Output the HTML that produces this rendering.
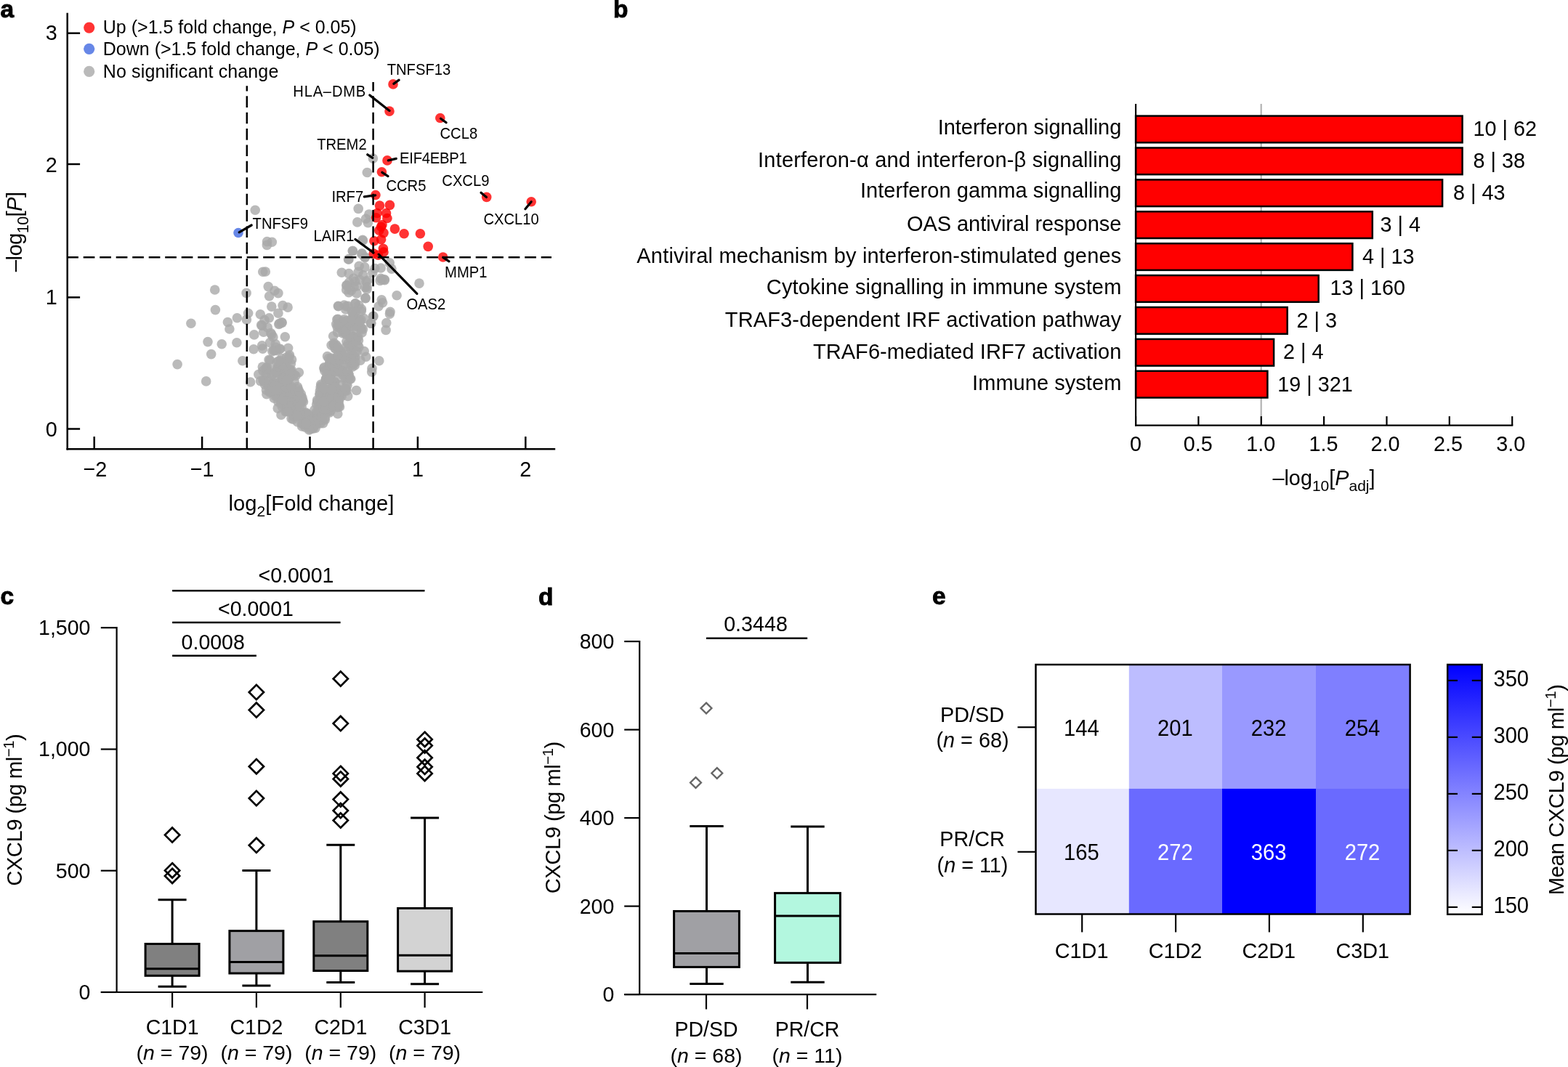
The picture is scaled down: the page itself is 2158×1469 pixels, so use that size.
<!DOCTYPE html>
<html lang="en"><head><meta charset="utf-8"><title>Figure</title>
<style>
html,body{margin:0;padding:0;background:#fff;}
body{width:2158px;height:1469px;overflow:hidden;}
svg{display:block;font-family:"Liberation Sans",sans-serif;}

</style></head>
<body>
<svg width="2158" height="1469" viewBox="0 0 2158 1469">
<rect width="2158" height="1469" fill="#fff"/>
<g id="pa">
<g fill="#a9a9a9" fill-opacity="0.8">
<circle cx="435.7" cy="556.8" r="6.8"/><circle cx="429.1" cy="573.8" r="6.8"/><circle cx="453.7" cy="567.9" r="6.8"/><circle cx="465.6" cy="543" r="6.8"/><circle cx="459.4" cy="541.9" r="6.8"/><circle cx="441.8" cy="546.4" r="6.8"/><circle cx="426.9" cy="590.8" r="6.8"/><circle cx="440.3" cy="543.1" r="6.8"/><circle cx="448.2" cy="563.6" r="6.8"/><circle cx="447.2" cy="577.9" r="6.8"/><circle cx="464.1" cy="547.9" r="6.8"/><circle cx="461.8" cy="541.2" r="6.8"/><circle cx="443.8" cy="546.7" r="6.8"/><circle cx="460.7" cy="544.2" r="6.8"/><circle cx="457.9" cy="554.5" r="6.8"/><circle cx="442.5" cy="549.2" r="6.8"/><circle cx="463.7" cy="552.1" r="6.8"/><circle cx="445.1" cy="570.6" r="6.8"/><circle cx="458.2" cy="540.2" r="6.8"/><circle cx="456.5" cy="560.4" r="6.8"/><circle cx="436.6" cy="550.9" r="6.8"/><circle cx="453.5" cy="545.3" r="6.8"/><circle cx="435.5" cy="571.9" r="6.8"/><circle cx="452.2" cy="553.1" r="6.8"/><circle cx="445.2" cy="557.8" r="6.8"/><circle cx="436.6" cy="583.1" r="6.8"/><circle cx="435.3" cy="567.5" r="6.8"/><circle cx="453.8" cy="553.6" r="6.8"/><circle cx="441.7" cy="557.1" r="6.8"/><circle cx="466.5" cy="551.8" r="6.8"/><circle cx="446.5" cy="541.5" r="6.8"/><circle cx="442.1" cy="551.5" r="6.8"/><circle cx="440.2" cy="550.2" r="6.8"/><circle cx="437.3" cy="577.7" r="6.8"/><circle cx="440.7" cy="583" r="6.8"/><circle cx="447.6" cy="553.1" r="6.8"/><circle cx="458.2" cy="553.5" r="6.8"/><circle cx="461.5" cy="558.4" r="6.8"/><circle cx="438.4" cy="562.9" r="6.8"/><circle cx="462.8" cy="549" r="6.8"/><circle cx="466.5" cy="557" r="6.8"/><circle cx="470.1" cy="545.5" r="6.8"/><circle cx="446.3" cy="552.9" r="6.8"/><circle cx="434.5" cy="583.7" r="6.8"/><circle cx="460.1" cy="546.3" r="6.8"/><circle cx="443.2" cy="543.8" r="6.8"/><circle cx="435" cy="574.3" r="6.8"/><circle cx="463.9" cy="560.7" r="6.8"/><circle cx="459.2" cy="548.4" r="6.8"/><circle cx="451.5" cy="566.8" r="6.8"/><circle cx="449.8" cy="550.2" r="6.8"/><circle cx="450.8" cy="540.9" r="6.8"/><circle cx="445.3" cy="545.4" r="6.8"/><circle cx="444.7" cy="582.6" r="6.8"/><circle cx="451.5" cy="563.6" r="6.8"/><circle cx="443" cy="567.4" r="6.8"/><circle cx="439.9" cy="542.6" r="6.8"/><circle cx="448.6" cy="556.2" r="6.8"/><circle cx="437.9" cy="566" r="6.8"/><circle cx="462.9" cy="549.9" r="6.8"/><circle cx="431.9" cy="588.6" r="6.8"/><circle cx="465.6" cy="560.4" r="6.8"/><circle cx="452.2" cy="561" r="6.8"/><circle cx="436.7" cy="553.3" r="6.8"/><circle cx="443.3" cy="554.7" r="6.8"/><circle cx="461.6" cy="555.2" r="6.8"/><circle cx="460.4" cy="548.2" r="6.8"/><circle cx="453" cy="556.1" r="6.8"/><circle cx="455.1" cy="540.1" r="6.8"/><circle cx="465.4" cy="550.5" r="6.8"/><circle cx="445.2" cy="540.3" r="6.8"/><circle cx="456.6" cy="544.7" r="6.8"/><circle cx="442.6" cy="555.8" r="6.8"/><circle cx="450.4" cy="560.3" r="6.8"/><circle cx="467" cy="547.2" r="6.8"/><circle cx="453.3" cy="546.9" r="6.8"/><circle cx="428.5" cy="574.3" r="6.8"/><circle cx="444.2" cy="578.3" r="6.8"/><circle cx="445.3" cy="543.9" r="6.8"/><circle cx="440.2" cy="577.9" r="6.8"/><circle cx="455.1" cy="565.7" r="6.8"/><circle cx="429.5" cy="573.4" r="6.8"/><circle cx="444.3" cy="547.7" r="6.8"/><circle cx="445.6" cy="543.2" r="6.8"/><circle cx="447.4" cy="575.1" r="6.8"/><circle cx="433" cy="564.2" r="6.8"/><circle cx="461.6" cy="540.9" r="6.8"/><circle cx="445.6" cy="563.4" r="6.8"/><circle cx="467" cy="547.4" r="6.8"/><circle cx="434.1" cy="589.5" r="6.8"/><circle cx="464.3" cy="540.2" r="6.8"/><circle cx="448.4" cy="563.4" r="6.8"/><circle cx="451.9" cy="547.3" r="6.8"/><circle cx="433.1" cy="583.6" r="6.8"/><circle cx="456" cy="559.4" r="6.8"/><circle cx="459" cy="558.8" r="6.8"/><circle cx="445.3" cy="553" r="6.8"/><circle cx="469.1" cy="537" r="6.8"/><circle cx="460.9" cy="526.6" r="6.8"/><circle cx="477.1" cy="527.6" r="6.8"/><circle cx="451.9" cy="513.6" r="6.8"/><circle cx="485.1" cy="504.9" r="6.8"/><circle cx="444.9" cy="538.8" r="6.8"/><circle cx="448.3" cy="522.8" r="6.8"/><circle cx="456.1" cy="517.9" r="6.8"/><circle cx="457.7" cy="527.5" r="6.8"/><circle cx="467" cy="510.7" r="6.8"/><circle cx="451.4" cy="508.8" r="6.8"/><circle cx="475.9" cy="515.2" r="6.8"/><circle cx="441.1" cy="533.1" r="6.8"/><circle cx="460.5" cy="510" r="6.8"/><circle cx="482.6" cy="491.6" r="6.8"/><circle cx="462.8" cy="534.8" r="6.8"/><circle cx="443.9" cy="538.6" r="6.8"/><circle cx="480.3" cy="516.1" r="6.8"/><circle cx="469.3" cy="512.9" r="6.8"/><circle cx="488.7" cy="492" r="6.8"/><circle cx="448.5" cy="522.3" r="6.8"/><circle cx="481.7" cy="521.8" r="6.8"/><circle cx="472" cy="516.2" r="6.8"/><circle cx="461.7" cy="505.1" r="6.8"/><circle cx="477.1" cy="537.9" r="6.8"/><circle cx="462.9" cy="534.2" r="6.8"/><circle cx="479.7" cy="514.9" r="6.8"/><circle cx="458.3" cy="506.9" r="6.8"/><circle cx="449.2" cy="538.5" r="6.8"/><circle cx="442.4" cy="531" r="6.8"/><circle cx="486.9" cy="501.1" r="6.8"/><circle cx="458" cy="501.2" r="6.8"/><circle cx="456.1" cy="497.3" r="6.8"/><circle cx="456" cy="493" r="6.8"/><circle cx="450.7" cy="536.6" r="6.8"/><circle cx="454.8" cy="523.2" r="6.8"/><circle cx="450.9" cy="508.7" r="6.8"/><circle cx="452.5" cy="504" r="6.8"/><circle cx="440.4" cy="538.2" r="6.8"/><circle cx="459.3" cy="531.1" r="6.8"/><circle cx="462.8" cy="492.5" r="6.8"/><circle cx="453.6" cy="499.7" r="6.8"/><circle cx="444.6" cy="536" r="6.8"/><circle cx="445.9" cy="507" r="6.8"/><circle cx="474.8" cy="537.9" r="6.8"/><circle cx="483.2" cy="503.1" r="6.8"/><circle cx="446.2" cy="505.8" r="6.8"/><circle cx="486.5" cy="490.2" r="6.8"/><circle cx="476.3" cy="535.8" r="6.8"/><circle cx="462.9" cy="501.7" r="6.8"/><circle cx="464.5" cy="511.5" r="6.8"/><circle cx="450.5" cy="520.4" r="6.8"/><circle cx="453.4" cy="506" r="6.8"/><circle cx="486.2" cy="499.9" r="6.8"/><circle cx="469.4" cy="491.7" r="6.8"/><circle cx="464.9" cy="494.8" r="6.8"/><circle cx="460.5" cy="525.5" r="6.8"/><circle cx="458" cy="501.7" r="6.8"/><circle cx="479.6" cy="521" r="6.8"/><circle cx="447.7" cy="532" r="6.8"/><circle cx="454.3" cy="518.3" r="6.8"/><circle cx="450.4" cy="518.9" r="6.8"/><circle cx="477.9" cy="530.4" r="6.8"/><circle cx="472" cy="538.6" r="6.8"/><circle cx="454.3" cy="536.5" r="6.8"/><circle cx="460.7" cy="533.3" r="6.8"/><circle cx="488.3" cy="503" r="6.8"/><circle cx="475.1" cy="519.8" r="6.8"/><circle cx="454" cy="500.9" r="6.8"/><circle cx="473.4" cy="502.7" r="6.8"/><circle cx="450.5" cy="490.6" r="6.8"/><circle cx="469" cy="529.8" r="6.8"/><circle cx="469.2" cy="509.8" r="6.8"/><circle cx="481.4" cy="498.2" r="6.8"/><circle cx="446.8" cy="510.5" r="6.8"/><circle cx="470.6" cy="505.6" r="6.8"/><circle cx="458" cy="507.9" r="6.8"/><circle cx="469.3" cy="490.7" r="6.8"/><circle cx="475.3" cy="494.5" r="6.8"/><circle cx="465.4" cy="508.5" r="6.8"/><circle cx="464.2" cy="495.4" r="6.8"/><circle cx="455.6" cy="536.3" r="6.8"/><circle cx="475.1" cy="535.2" r="6.8"/><circle cx="441.7" cy="529.3" r="6.8"/><circle cx="456.6" cy="500.9" r="6.8"/><circle cx="455.2" cy="515.9" r="6.8"/><circle cx="470.2" cy="492.1" r="6.8"/><circle cx="469.2" cy="520" r="6.8"/><circle cx="448.7" cy="521.4" r="6.8"/><circle cx="471.9" cy="511" r="6.8"/><circle cx="478.3" cy="511.3" r="6.8"/><circle cx="459.8" cy="512.3" r="6.8"/><circle cx="475" cy="491.2" r="6.8"/><circle cx="459.2" cy="496.4" r="6.8"/><circle cx="460.1" cy="494.6" r="6.8"/><circle cx="454.7" cy="515.2" r="6.8"/><circle cx="452.5" cy="493.3" r="6.8"/><circle cx="446.1" cy="534.8" r="6.8"/><circle cx="449.8" cy="515.3" r="6.8"/><circle cx="488.9" cy="498.4" r="6.8"/><circle cx="467.6" cy="495.8" r="6.8"/><circle cx="453.2" cy="521.8" r="6.8"/><circle cx="469.6" cy="484.9" r="6.8"/><circle cx="456.1" cy="475.2" r="6.8"/><circle cx="471.5" cy="489.6" r="6.8"/><circle cx="487.2" cy="464.4" r="6.8"/><circle cx="478.8" cy="473.4" r="6.8"/><circle cx="459.3" cy="474.6" r="6.8"/><circle cx="472" cy="459" r="6.8"/><circle cx="462.9" cy="475" r="6.8"/><circle cx="476.6" cy="453.8" r="6.8"/><circle cx="488.7" cy="484.9" r="6.8"/><circle cx="477.2" cy="450.5" r="6.8"/><circle cx="460.3" cy="475.8" r="6.8"/><circle cx="484.6" cy="487.5" r="6.8"/><circle cx="467.6" cy="451.8" r="6.8"/><circle cx="488.4" cy="452.3" r="6.8"/><circle cx="469.3" cy="450.5" r="6.8"/><circle cx="474.1" cy="458" r="6.8"/><circle cx="476.9" cy="470.3" r="6.8"/><circle cx="497.7" cy="451.9" r="6.8"/><circle cx="483.1" cy="481.3" r="6.8"/><circle cx="493.9" cy="450.3" r="6.8"/><circle cx="462.1" cy="479.8" r="6.8"/><circle cx="461" cy="479.7" r="6.8"/><circle cx="486" cy="463.4" r="6.8"/><circle cx="494" cy="477.8" r="6.8"/><circle cx="459.6" cy="472.2" r="6.8"/><circle cx="467" cy="481.5" r="6.8"/><circle cx="476.9" cy="460.6" r="6.8"/><circle cx="481.2" cy="475.2" r="6.8"/><circle cx="493.5" cy="468.8" r="6.8"/><circle cx="483.9" cy="467.5" r="6.8"/><circle cx="475.3" cy="458.5" r="6.8"/><circle cx="499.5" cy="453.1" r="6.8"/><circle cx="476.2" cy="477.7" r="6.8"/><circle cx="484.9" cy="477.9" r="6.8"/><circle cx="472.6" cy="452.6" r="6.8"/><circle cx="491.7" cy="464.5" r="6.8"/><circle cx="495.9" cy="452.6" r="6.8"/><circle cx="491.2" cy="483.9" r="6.8"/><circle cx="492.3" cy="475.4" r="6.8"/><circle cx="458.6" cy="462.8" r="6.8"/><circle cx="483.1" cy="461.3" r="6.8"/><circle cx="465.3" cy="488.6" r="6.8"/><circle cx="474.9" cy="484.1" r="6.8"/><circle cx="487.9" cy="467.5" r="6.8"/><circle cx="482.2" cy="463.9" r="6.8"/><circle cx="464.2" cy="450.2" r="6.8"/><circle cx="489.9" cy="469.7" r="6.8"/><circle cx="464.5" cy="457.4" r="6.8"/><circle cx="492.9" cy="463.9" r="6.8"/><circle cx="464.9" cy="478" r="6.8"/><circle cx="476.5" cy="454.4" r="6.8"/><circle cx="489.2" cy="417.8" r="6.8"/><circle cx="489.1" cy="439.4" r="6.8"/><circle cx="465.1" cy="446.5" r="6.8"/><circle cx="497.3" cy="428.3" r="6.8"/><circle cx="486.4" cy="433.6" r="6.8"/><circle cx="477.3" cy="441.4" r="6.8"/><circle cx="493.8" cy="420.4" r="6.8"/><circle cx="485.3" cy="438.2" r="6.8"/><circle cx="471.7" cy="442.1" r="6.8"/><circle cx="493.9" cy="439.6" r="6.8"/><circle cx="484.2" cy="449.1" r="6.8"/><circle cx="489.8" cy="449.4" r="6.8"/><circle cx="476.6" cy="421.9" r="6.8"/><circle cx="489.4" cy="429" r="6.8"/><circle cx="465" cy="439.3" r="6.8"/><circle cx="473.7" cy="420" r="6.8"/><circle cx="485.2" cy="429.2" r="6.8"/><circle cx="485.9" cy="435.1" r="6.8"/><circle cx="496.9" cy="440.3" r="6.8"/><circle cx="481.8" cy="442.1" r="6.8"/><circle cx="480.1" cy="444.8" r="6.8"/><circle cx="475.8" cy="426" r="6.8"/><circle cx="482.9" cy="442.4" r="6.8"/><circle cx="501.1" cy="438.6" r="6.8"/><circle cx="504.9" cy="398.2" r="6.8"/><circle cx="488.7" cy="387.3" r="6.8"/><circle cx="483.3" cy="399.9" r="6.8"/><circle cx="476.7" cy="398.9" r="6.8"/><circle cx="502.6" cy="395.5" r="6.8"/><circle cx="480.5" cy="388.9" r="6.8"/><circle cx="487.1" cy="395" r="6.8"/><circle cx="505.7" cy="386" r="6.8"/><circle cx="386.6" cy="554.3" r="6.8"/><circle cx="388" cy="540.7" r="6.8"/><circle cx="408.7" cy="561.9" r="6.8"/><circle cx="411.9" cy="551.7" r="6.8"/><circle cx="416.3" cy="551.4" r="6.8"/><circle cx="414.5" cy="546.7" r="6.8"/><circle cx="398.6" cy="564.4" r="6.8"/><circle cx="404.3" cy="558.4" r="6.8"/><circle cx="417.4" cy="582.6" r="6.8"/><circle cx="410.4" cy="540.1" r="6.8"/><circle cx="392.5" cy="555.7" r="6.8"/><circle cx="404.2" cy="562.3" r="6.8"/><circle cx="420.2" cy="588.3" r="6.8"/><circle cx="414.4" cy="552.1" r="6.8"/><circle cx="415.6" cy="587" r="6.8"/><circle cx="414.8" cy="571.6" r="6.8"/><circle cx="423.1" cy="574.8" r="6.8"/><circle cx="419.1" cy="581" r="6.8"/><circle cx="408.3" cy="550.3" r="6.8"/><circle cx="411.9" cy="567.6" r="6.8"/><circle cx="393.9" cy="565.6" r="6.8"/><circle cx="420.9" cy="568.1" r="6.8"/><circle cx="398.6" cy="564.3" r="6.8"/><circle cx="419.2" cy="574.6" r="6.8"/><circle cx="388" cy="559.5" r="6.8"/><circle cx="404.1" cy="573.1" r="6.8"/><circle cx="402.1" cy="541.5" r="6.8"/><circle cx="425.9" cy="575.5" r="6.8"/><circle cx="392.9" cy="566.6" r="6.8"/><circle cx="403.3" cy="577.3" r="6.8"/><circle cx="392.1" cy="559" r="6.8"/><circle cx="414" cy="567.3" r="6.8"/><circle cx="389.2" cy="551" r="6.8"/><circle cx="398" cy="562" r="6.8"/><circle cx="415.6" cy="574" r="6.8"/><circle cx="400.4" cy="555.6" r="6.8"/><circle cx="415" cy="573" r="6.8"/><circle cx="410.5" cy="542.1" r="6.8"/><circle cx="379.2" cy="542.6" r="6.8"/><circle cx="371.1" cy="540.3" r="6.8"/><circle cx="415.4" cy="574.2" r="6.8"/><circle cx="403.4" cy="572.1" r="6.8"/><circle cx="401.1" cy="576.2" r="6.8"/><circle cx="424.6" cy="580.3" r="6.8"/><circle cx="415.2" cy="582.8" r="6.8"/><circle cx="388.2" cy="555.7" r="6.8"/><circle cx="388.9" cy="556.6" r="6.8"/><circle cx="399" cy="542.8" r="6.8"/><circle cx="385.6" cy="540.7" r="6.8"/><circle cx="407.6" cy="540.2" r="6.8"/><circle cx="414.3" cy="542.6" r="6.8"/><circle cx="420.3" cy="577.1" r="6.8"/><circle cx="409.5" cy="572.7" r="6.8"/><circle cx="405.2" cy="540.8" r="6.8"/><circle cx="411" cy="556.2" r="6.8"/><circle cx="399.5" cy="559.1" r="6.8"/><circle cx="407.1" cy="562.8" r="6.8"/><circle cx="416" cy="547.5" r="6.8"/><circle cx="404.7" cy="558.9" r="6.8"/><circle cx="415.2" cy="560.1" r="6.8"/><circle cx="418.2" cy="576.6" r="6.8"/><circle cx="401.8" cy="557.3" r="6.8"/><circle cx="407.7" cy="559.6" r="6.8"/><circle cx="423.3" cy="571.3" r="6.8"/><circle cx="376.5" cy="540.1" r="6.8"/><circle cx="400.4" cy="562" r="6.8"/><circle cx="422.7" cy="582.4" r="6.8"/><circle cx="421.2" cy="582.2" r="6.8"/><circle cx="416.7" cy="584.3" r="6.8"/><circle cx="424.6" cy="575.6" r="6.8"/><circle cx="416" cy="568.8" r="6.8"/><circle cx="412.5" cy="550.4" r="6.8"/><circle cx="407.1" cy="571.6" r="6.8"/><circle cx="412.6" cy="553.2" r="6.8"/><circle cx="423.4" cy="570.1" r="6.8"/><circle cx="400.6" cy="564.8" r="6.8"/><circle cx="408.9" cy="549.4" r="6.8"/><circle cx="398.8" cy="558.9" r="6.8"/><circle cx="395.3" cy="560.9" r="6.8"/><circle cx="403.8" cy="545.5" r="6.8"/><circle cx="421.4" cy="569" r="6.8"/><circle cx="398.8" cy="553.4" r="6.8"/><circle cx="430.4" cy="590.2" r="6.8"/><circle cx="383" cy="553.3" r="6.8"/><circle cx="423.9" cy="586.9" r="6.8"/><circle cx="409.5" cy="580.9" r="6.8"/><circle cx="426.5" cy="579.3" r="6.8"/><circle cx="413.1" cy="570.8" r="6.8"/><circle cx="381" cy="545.5" r="6.8"/><circle cx="422.8" cy="585.1" r="6.8"/><circle cx="390.1" cy="547.3" r="6.8"/><circle cx="387.5" cy="553.9" r="6.8"/><circle cx="377.1" cy="548.1" r="6.8"/><circle cx="393.3" cy="548.7" r="6.8"/><circle cx="425.5" cy="591.9" r="6.8"/><circle cx="378.4" cy="545.1" r="6.8"/><circle cx="389.2" cy="549.7" r="6.8"/><circle cx="414" cy="549.4" r="6.8"/><circle cx="409.4" cy="571.8" r="6.8"/><circle cx="421" cy="583.8" r="6.8"/><circle cx="401" cy="559.3" r="6.8"/><circle cx="395.5" cy="540.2" r="6.8"/><circle cx="395.2" cy="563.2" r="6.8"/><circle cx="409.9" cy="546.3" r="6.8"/><circle cx="421" cy="582.5" r="6.8"/><circle cx="409.6" cy="556.7" r="6.8"/><circle cx="412.6" cy="559.8" r="6.8"/><circle cx="396.3" cy="566.7" r="6.8"/><circle cx="417.5" cy="553" r="6.8"/><circle cx="401.4" cy="540.9" r="6.8"/><circle cx="395.7" cy="525.2" r="6.8"/><circle cx="364.6" cy="529.6" r="6.8"/><circle cx="410.1" cy="535.4" r="6.8"/><circle cx="366.1" cy="506.6" r="6.8"/><circle cx="394.1" cy="522.3" r="6.8"/><circle cx="366" cy="514.8" r="6.8"/><circle cx="367.1" cy="519.2" r="6.8"/><circle cx="399.4" cy="510.2" r="6.8"/><circle cx="369.2" cy="531.1" r="6.8"/><circle cx="388.1" cy="518.6" r="6.8"/><circle cx="395.9" cy="534.4" r="6.8"/><circle cx="382.1" cy="532.2" r="6.8"/><circle cx="381.8" cy="513.4" r="6.8"/><circle cx="395.3" cy="506.9" r="6.8"/><circle cx="388.2" cy="513.7" r="6.8"/><circle cx="384" cy="527.1" r="6.8"/><circle cx="362.1" cy="523.6" r="6.8"/><circle cx="394.4" cy="520.2" r="6.8"/><circle cx="367.3" cy="505.7" r="6.8"/><circle cx="403.9" cy="537.8" r="6.8"/><circle cx="376.7" cy="527.5" r="6.8"/><circle cx="377.2" cy="528.7" r="6.8"/><circle cx="375.5" cy="526.7" r="6.8"/><circle cx="389.1" cy="523.2" r="6.8"/><circle cx="378.3" cy="538.3" r="6.8"/><circle cx="404.9" cy="515.7" r="6.8"/><circle cx="401" cy="509.2" r="6.8"/><circle cx="395" cy="538.5" r="6.8"/><circle cx="391.5" cy="514.4" r="6.8"/><circle cx="368" cy="523.7" r="6.8"/><circle cx="366.7" cy="509.3" r="6.8"/><circle cx="387.1" cy="515.3" r="6.8"/><circle cx="375" cy="515.1" r="6.8"/><circle cx="397.4" cy="508.1" r="6.8"/><circle cx="402.1" cy="534.4" r="6.8"/><circle cx="405.1" cy="525" r="6.8"/><circle cx="397.6" cy="521.1" r="6.8"/><circle cx="391.7" cy="526.4" r="6.8"/><circle cx="374.9" cy="515.9" r="6.8"/><circle cx="394.9" cy="512.8" r="6.8"/><circle cx="400.3" cy="518.4" r="6.8"/><circle cx="383.1" cy="505.4" r="6.8"/><circle cx="374.7" cy="535.2" r="6.8"/><circle cx="393.4" cy="524.5" r="6.8"/><circle cx="361.9" cy="510.5" r="6.8"/><circle cx="389.6" cy="535.5" r="6.8"/><circle cx="385.7" cy="507.2" r="6.8"/><circle cx="373.7" cy="508.8" r="6.8"/><circle cx="411.7" cy="538.6" r="6.8"/><circle cx="381.9" cy="510.4" r="6.8"/><circle cx="407" cy="517.3" r="6.8"/><circle cx="395.3" cy="533.7" r="6.8"/><circle cx="392.2" cy="531.6" r="6.8"/><circle cx="409.4" cy="532.5" r="6.8"/><circle cx="366.4" cy="537" r="6.8"/><circle cx="400.4" cy="531.8" r="6.8"/><circle cx="387.9" cy="525" r="6.8"/><circle cx="385.1" cy="526.3" r="6.8"/><circle cx="390.9" cy="520.8" r="6.8"/><circle cx="378.7" cy="530.3" r="6.8"/><circle cx="398.1" cy="518.7" r="6.8"/><circle cx="380.8" cy="518.5" r="6.8"/><circle cx="389.9" cy="522.5" r="6.8"/><circle cx="379.5" cy="511.4" r="6.8"/><circle cx="399.6" cy="510.1" r="6.8"/><circle cx="363.5" cy="525.4" r="6.8"/><circle cx="381" cy="537.2" r="6.8"/><circle cx="372.1" cy="538.6" r="6.8"/><circle cx="393.8" cy="524.8" r="6.8"/><circle cx="395.3" cy="523.1" r="6.8"/><circle cx="385.8" cy="496.5" r="6.8"/><circle cx="395.9" cy="496.3" r="6.8"/><circle cx="384.7" cy="480.7" r="6.8"/><circle cx="398.5" cy="488.8" r="6.8"/><circle cx="393" cy="504" r="6.8"/><circle cx="382.4" cy="504.9" r="6.8"/><circle cx="380.5" cy="482.6" r="6.8"/><circle cx="388.1" cy="502" r="6.8"/><circle cx="378.5" cy="482.2" r="6.8"/><circle cx="394.4" cy="491.8" r="6.8"/><circle cx="401.6" cy="495" r="6.8"/><circle cx="379.5" cy="478.1" r="6.8"/><circle cx="400.4" cy="500.7" r="6.8"/><circle cx="371.6" cy="496" r="6.8"/><circle cx="397.9" cy="491.4" r="6.8"/><circle cx="387.4" cy="493.5" r="6.8"/><circle cx="380.9" cy="498.8" r="6.8"/><circle cx="383.2" cy="497.3" r="6.8"/><circle cx="376.7" cy="482.6" r="6.8"/><circle cx="351.2" cy="289.2" r="6.8"/><circle cx="367.6" cy="332.6" r="6.8"/><circle cx="374.3" cy="333.3" r="6.8"/><circle cx="367.4" cy="337.4" r="6.8"/><circle cx="361.8" cy="374.3" r="6.8"/><circle cx="365.3" cy="374" r="6.8"/><circle cx="295.7" cy="399" r="6.8"/><circle cx="339.1" cy="403.4" r="6.8"/><circle cx="369.2" cy="394.6" r="6.8"/><circle cx="378" cy="400.2" r="6.8"/><circle cx="382.9" cy="403.6" r="6.8"/><circle cx="370.6" cy="407.8" r="6.8"/><circle cx="296.4" cy="426.6" r="6.8"/><circle cx="373.8" cy="422.1" r="6.8"/><circle cx="389.1" cy="420.6" r="6.8"/><circle cx="396.1" cy="423.1" r="6.8"/><circle cx="382.9" cy="431.2" r="6.8"/><circle cx="341.6" cy="431.2" r="6.8"/><circle cx="358.3" cy="432.8" r="6.8"/><circle cx="326.3" cy="437.7" r="6.8"/><circle cx="339.4" cy="440.1" r="6.8"/><circle cx="370.4" cy="437.7" r="6.8"/><circle cx="364.1" cy="440.5" r="6.8"/><circle cx="388" cy="443.7" r="6.8"/><circle cx="383.8" cy="446.5" r="6.8"/><circle cx="313.4" cy="443.5" r="6.8"/><circle cx="262.9" cy="445.3" r="6.8"/><circle cx="315.9" cy="453" r="6.8"/><circle cx="360.6" cy="448.1" r="6.8"/><circle cx="349.8" cy="460.9" r="6.8"/><circle cx="392.3" cy="463.8" r="6.8"/><circle cx="362.7" cy="457.2" r="6.8"/><circle cx="373.8" cy="460.6" r="6.8"/><circle cx="286" cy="470.6" r="6.8"/><circle cx="305.2" cy="473.7" r="6.8"/><circle cx="325.9" cy="471.8" r="6.8"/><circle cx="360.6" cy="475.9" r="6.8"/><circle cx="361.6" cy="480.1" r="6.8"/><circle cx="349.1" cy="480.8" r="6.8"/><circle cx="290.7" cy="487.6" r="6.8"/><circle cx="333.8" cy="496.8" r="6.8"/><circle cx="244.1" cy="501.6" r="6.8"/><circle cx="370.1" cy="495.4" r="6.8"/><circle cx="283.7" cy="524.9" r="6.8"/><circle cx="344.6" cy="526" r="6.8"/><circle cx="361.3" cy="505.1" r="6.8"/><circle cx="355.8" cy="515.5" r="6.8"/><circle cx="358.5" cy="524.6" r="6.8"/><circle cx="411.4" cy="512.8" r="6.8"/><circle cx="366.9" cy="542.7" r="6.8"/><circle cx="382.2" cy="562.1" r="6.8"/><circle cx="387" cy="571.2" r="6.8"/><circle cx="577" cy="390.1" r="6.8"/><circle cx="546.1" cy="406.8" r="6.8"/><circle cx="525.9" cy="384.9" r="6.8"/><circle cx="529.4" cy="385.6" r="6.8"/><circle cx="525.2" cy="412.7" r="6.8"/><circle cx="526.6" cy="416.8" r="6.8"/><circle cx="521.1" cy="421.7" r="6.8"/><circle cx="537" cy="429.4" r="6.8"/><circle cx="536.4" cy="432.1" r="6.8"/><circle cx="531.8" cy="444.6" r="6.8"/><circle cx="531.1" cy="454.4" r="6.8"/><circle cx="513.4" cy="435.6" r="6.8"/><circle cx="510.6" cy="445.3" r="6.8"/><circle cx="521.8" cy="496.8" r="6.8"/><circle cx="512" cy="507.2" r="6.8"/><circle cx="511.7" cy="512.1" r="6.8"/><circle cx="501.2" cy="483.6" r="6.8"/><circle cx="503.7" cy="491.2" r="6.8"/><circle cx="496" cy="496.1" r="6.8"/><circle cx="490.5" cy="537.5" r="6.8"/><circle cx="465.7" cy="421.7" r="6.8"/><circle cx="477.3" cy="392.5" r="6.8"/><circle cx="503" cy="410.6" r="6.8"/><circle cx="467.5" cy="560" r="6.8"/><circle cx="464.8" cy="569.8" r="6.8"/><circle cx="478.7" cy="545.4" r="6.8"/><circle cx="482.8" cy="521.8" r="6.8"/><circle cx="498.1" cy="457.9" r="6.8"/><circle cx="493.2" cy="287.4" r="6.8"/><circle cx="507.8" cy="295" r="6.8"/><circle cx="503.6" cy="301.3" r="6.8"/><circle cx="491.8" cy="305.9" r="6.8"/><circle cx="506.4" cy="306.8" r="6.8"/><circle cx="499.4" cy="331.2" r="6.8"/><circle cx="485.5" cy="345.8" r="6.8"/><circle cx="498" cy="349.9" r="6.8"/><circle cx="480" cy="356.9" r="6.8"/><circle cx="502.2" cy="354.8" r="6.8"/><circle cx="513.4" cy="218.1" r="6.8"/><circle cx="505.3" cy="237.5" r="6.8"/><circle cx="499.1" cy="330.3" r="6.8"/><circle cx="485.3" cy="345.3" r="6.8"/><circle cx="498.1" cy="348.9" r="6.8"/><circle cx="502.4" cy="353.8" r="6.8"/><circle cx="479.5" cy="357" r="6.8"/><circle cx="494.2" cy="366.3" r="6.8"/><circle cx="501.9" cy="367.9" r="6.8"/><circle cx="516" cy="369.5" r="6.8"/><circle cx="524.2" cy="369" r="6.8"/><circle cx="536.2" cy="361.9" r="6.8"/><circle cx="538.9" cy="370.1" r="6.8"/><circle cx="470.3" cy="375.3" r="6.8"/><circle cx="480.1" cy="376.6" r="6.8"/><circle cx="493.2" cy="374.4" r="6.8"/><circle cx="499.7" cy="378.8" r="6.8"/><circle cx="512.8" cy="375.5" r="6.8"/><circle cx="524.2" cy="383.2" r="6.8"/><circle cx="529.1" cy="384.8" r="6.8"/><circle cx="523.1" cy="386.4" r="6.8"/><circle cx="486.6" cy="383.2" r="6.8"/><circle cx="495.3" cy="385.3" r="6.8"/><circle cx="504" cy="387.5" r="6.8"/><circle cx="476.8" cy="393" r="6.8"/><circle cx="491" cy="394" r="6.8"/><circle cx="505.1" cy="395.1" r="6.8"/><circle cx="480.1" cy="402.8" r="6.8"/><circle cx="491" cy="403.9" r="6.8"/><circle cx="503" cy="410.4" r="6.8"/><circle cx="465.4" cy="421.3" r="6.8"/><circle cx="479" cy="421.3" r="6.8"/><circle cx="488.8" cy="418" r="6.8"/><circle cx="497.5" cy="425.6" r="6.8"/><circle cx="484.4" cy="428.9" r="6.8"/><circle cx="513.9" cy="435.4" r="6.8"/><circle cx="510.6" cy="445.2" r="6.8"/><circle cx="463.8" cy="439.8" r="6.8"/><circle cx="462.7" cy="446.3" r="6.8"/><circle cx="473.6" cy="439.8" r="6.8"/><circle cx="484.4" cy="439.8" r="6.8"/><circle cx="495.3" cy="443" r="6.8"/><circle cx="359.6" cy="447.6" r="6.8"/><circle cx="368.3" cy="450.9" r="6.8"/><circle cx="372.7" cy="458.5" r="6.8"/><circle cx="375.9" cy="464" r="6.8"/><circle cx="371.6" cy="471.6" r="6.8"/><circle cx="379.2" cy="473.8" r="6.8"/><circle cx="374.8" cy="483.6" r="6.8"/><circle cx="385.7" cy="480.3" r="6.8"/><circle cx="396.6" cy="479.2" r="6.8"/><circle cx="384.6" cy="445.4" r="6.8"/><circle cx="388" cy="444.5" r="6.8"/>
</g>
<g fill="#ff0000" fill-opacity="0.8">
<circle cx="516.9" cy="268.5" r="6.8"/><circle cx="522.5" cy="283.1" r="6.8"/><circle cx="536.4" cy="282.4" r="6.8"/><circle cx="519" cy="293.5" r="6.8"/><circle cx="531.5" cy="293.5" r="6.8"/><circle cx="517.6" cy="299.8" r="6.8"/><circle cx="532.9" cy="300.5" r="6.8"/><circle cx="526" cy="309.5" r="6.8"/><circle cx="524.6" cy="312.3" r="6.8"/><circle cx="521.8" cy="317.2" r="6.8"/><circle cx="528" cy="320.6" r="6.8"/><circle cx="543.4" cy="315.1" r="6.8"/><circle cx="556.1" cy="321.7" r="6.8"/><circle cx="578.4" cy="321.7" r="6.8"/><circle cx="514.9" cy="331.8" r="6.8"/><circle cx="524.6" cy="329.7" r="6.8"/><circle cx="589.2" cy="339.4" r="6.8"/><circle cx="527.4" cy="342.2" r="6.8"/><circle cx="528" cy="347" r="6.8"/><circle cx="514.2" cy="349.1" r="6.8"/><circle cx="520.4" cy="351.2" r="6.8"/><circle cx="609.7" cy="354" r="6.8"/><circle cx="669.7" cy="271.4" r="6.8"/><circle cx="541" cy="115.9" r="6.8"/><circle cx="536" cy="153.1" r="6.8"/><circle cx="605.8" cy="162.5" r="6.8"/><circle cx="533" cy="220.9" r="6.8"/><circle cx="525.4" cy="236.8" r="6.8"/><circle cx="731.2" cy="277.8" r="6.8"/>
</g>
<circle cx="328" cy="320.5" r="6.8" fill="#4169e1" fill-opacity="0.8"/>
<line x1="339.8" y1="618.3" x2="339.8" y2="118.3" stroke="#000" stroke-width="2.5" stroke-dasharray="15.65 6.75"/>
<line x1="513.6" y1="618.3" x2="513.6" y2="112.9" stroke="#000" stroke-width="2.5" stroke-dasharray="15.65 6.75"/>
<line x1="92.2" y1="354.3" x2="759" y2="354.3" stroke="#000" stroke-width="2.5" stroke-dasharray="15.7 6.8"/>
<line x1="92.7" y1="17.8" x2="92.7" y2="619.5" stroke="#000" stroke-width="2.5" />
<line x1="91.5" y1="618.3" x2="764.2" y2="618.3" stroke="#000" stroke-width="2.5" />
<line x1="92.7" y1="590.5" x2="110.1" y2="590.5" stroke="#000" stroke-width="2.5" />
<text transform="translate(78.7 600.6) scale(1 1.05)" font-size="28.8" text-anchor="end" >0</text>
<line x1="92.7" y1="409.4" x2="110.1" y2="409.4" stroke="#000" stroke-width="2.5" />
<text transform="translate(78.7 418.6) scale(1 1.05)" font-size="28.8" text-anchor="end" >1</text>
<line x1="92.7" y1="226" x2="110.1" y2="226" stroke="#000" stroke-width="2.5" />
<text transform="translate(78.7 236.6) scale(1 1.05)" font-size="28.8" text-anchor="end" >2</text>
<line x1="92.7" y1="45.7" x2="110.1" y2="45.7" stroke="#000" stroke-width="2.5" />
<text transform="translate(78.7 54.6) scale(1 1.05)" font-size="28.8" text-anchor="end" >3</text>
<line x1="129.7" y1="618.3" x2="129.7" y2="601.1" stroke="#000" stroke-width="2.5" />
<text transform="translate(130.8 656) scale(1 1.05)" font-size="28.8" text-anchor="middle" >−2</text>
<line x1="278.1" y1="618.3" x2="278.1" y2="601.1" stroke="#000" stroke-width="2.5" />
<text transform="translate(278.1 656) scale(1 1.05)" font-size="28.8" text-anchor="middle" >−1</text>
<line x1="426.5" y1="618.3" x2="426.5" y2="601.1" stroke="#000" stroke-width="2.5" />
<text transform="translate(426.5 656) scale(1 1.05)" font-size="28.8" text-anchor="middle" >0</text>
<line x1="574.9" y1="618.3" x2="574.9" y2="601.1" stroke="#000" stroke-width="2.5" />
<text transform="translate(574.9 656) scale(1 1.05)" font-size="28.8" text-anchor="middle" >1</text>
<line x1="723.3" y1="618.3" x2="723.3" y2="601.1" stroke="#000" stroke-width="2.5" />
<text transform="translate(723.3 656) scale(1 1.05)" font-size="28.8" text-anchor="middle" >2</text>
<text x="314.4" y="702.8" font-size="29.2" textLength="228">log<tspan font-size="21" dy="8">2</tspan><tspan dy="-8">[Fold change]</tspan></text>
<text transform="translate(30 374.2) rotate(-90)" font-size="29.3" textLength="110.4">–log<tspan font-size="21.5" dy="8.8">10</tspan><tspan dy="-8.8">[</tspan><tspan font-style="italic">P</tspan>]</text>
<circle cx="122.7" cy="38.1" r="7.6" fill="#ff0000" fill-opacity="0.8"/>
<circle cx="122.7" cy="67.3" r="7.6" fill="#4169e1" fill-opacity="0.8"/>
<circle cx="122.7" cy="98.4" r="7.6" fill="#a9a9a9" fill-opacity="0.8"/>
<text x="141.8" y="46.4" font-size="25" text-anchor="start" >Up (&gt;1.5 fold change, <tspan font-style="italic">P</tspan> &lt; 0.05)</text>
<text x="141.8" y="75.9" font-size="25" text-anchor="start" >Down (&gt;1.5 fold change, <tspan font-style="italic">P</tspan> &lt; 0.05)</text>
<text x="141.8" y="106.8" font-size="25" text-anchor="start" textLength="241.5">No significant change</text>
<line x1="549.1" y1="110.1" x2="541.8" y2="115.4" stroke="#000" stroke-width="3.2" stroke-linecap="round"/>
<text transform="translate(532.7 102.8) scale(1 1.05)" font-size="20.2" text-anchor="start" >TNFSF13</text>
<line x1="508.8" y1="131" x2="536" y2="152.4" stroke="#000" stroke-width="3.2" stroke-linecap="round"/>
<text transform="translate(403.3 132.7) scale(1 1.05)" font-size="20.2" text-anchor="start" textLength="100">HLA–DMB</text>
<line x1="606.5" y1="163.2" x2="614.1" y2="168.8" stroke="#000" stroke-width="3.2" stroke-linecap="round"/>
<text transform="translate(605.5 190.7) scale(1 1.05)" font-size="20.2" text-anchor="start" >CCL8</text>
<line x1="505.8" y1="212.8" x2="512.8" y2="217.4" stroke="#000" stroke-width="3.2" stroke-linecap="round"/>
<text transform="translate(436.2 205.8) scale(1 1.05)" font-size="20.2" text-anchor="start" >TREM2</text>
<line x1="545.3" y1="218.4" x2="534.3" y2="220.9" stroke="#000" stroke-width="3.2" stroke-linecap="round"/>
<text transform="translate(550.1 224.7) scale(1 1.05)" font-size="20.2" text-anchor="start" textLength="92.6">EIF4EBP1</text>
<line x1="525.9" y1="237.3" x2="534" y2="242.6" stroke="#000" stroke-width="3.2" stroke-linecap="round"/>
<text transform="translate(531.4 262.7) scale(1 1.05)" font-size="20.2" text-anchor="start" >CCR5</text>
<line x1="662" y1="265.2" x2="669.5" y2="271.5" stroke="#000" stroke-width="3.2" stroke-linecap="round"/>
<text transform="translate(608.3 256.4) scale(1 1.05)" font-size="20.2" text-anchor="start" >CXCL9</text>
<line x1="731.2" y1="277.8" x2="722.9" y2="287.7" stroke="#000" stroke-width="3.2" stroke-linecap="round"/>
<text transform="translate(665.4 308.6) scale(1 1.05)" font-size="20.2" text-anchor="start" >CXCL10</text>
<line x1="501.3" y1="270.8" x2="516.6" y2="268.8" stroke="#000" stroke-width="3.2" stroke-linecap="round"/>
<text transform="translate(456.4 278.3) scale(1 1.05)" font-size="20.2" text-anchor="start" >IRF7</text>
<line x1="346.2" y1="310" x2="329.1" y2="319.8" stroke="#000" stroke-width="3.2" stroke-linecap="round"/>
<text transform="translate(347.6 314.8) scale(1 1.05)" font-size="20.2" text-anchor="start" >TNFSF9</text>
<line x1="489" y1="329.5" x2="514" y2="347.9" stroke="#000" stroke-width="3.2" stroke-linecap="round"/>
<text transform="translate(431.4 331.9) scale(1 1.05)" font-size="20.2" text-anchor="start" >LAIR1</text>
<line x1="521.1" y1="350.2" x2="573.9" y2="404.3" stroke="#000" stroke-width="3.2" stroke-linecap="round"/>
<text transform="translate(559.4 425.6) scale(1 1.05)" font-size="20.2" text-anchor="start" >OAS2</text>
<line x1="609.7" y1="354.3" x2="618" y2="359.8" stroke="#000" stroke-width="3.2" stroke-linecap="round"/>
<text transform="translate(612.1 381.8) scale(1 1.05)" font-size="20.2" text-anchor="start" >MMP1</text>
</g>
<g id="pb">
<line x1="1735.7" y1="143" x2="1735.7" y2="585.6" stroke="#b3b3b3" stroke-width="2.2" />
<rect x="1563.1" y="159.6" width="449.5" height="36.7" fill="#ff0000" stroke="#000" stroke-width="2.5"/>
<text x="1290.7" y="185.2" font-size="29" text-anchor="start" textLength="252.6">Interferon signalling</text>
<text transform="translate(2027.4 187) scale(1 1.05)" font-size="28.8" text-anchor="start" >10 | 62</text>
<rect x="1563.1" y="203.5" width="449.5" height="36.7" fill="#ff0000" stroke="#000" stroke-width="2.5"/>
<text x="1043.1" y="230.3" font-size="29" text-anchor="start" textLength="500.2">Interferon-α and interferon-β signalling</text>
<text transform="translate(2027.5 230.9) scale(1 1.05)" font-size="28.8" text-anchor="start" >8 | 38</text>
<rect x="1563.1" y="247.4" width="422" height="36.7" fill="#ff0000" stroke="#000" stroke-width="2.5"/>
<text x="1183.9" y="272.3" font-size="29" text-anchor="start" textLength="359.4">Interferon gamma signalling</text>
<text transform="translate(1999.9 274.8) scale(1 1.05)" font-size="28.8" text-anchor="start" >8 | 43</text>
<rect x="1563.1" y="291.3" width="325.7" height="36.7" fill="#ff0000" stroke="#000" stroke-width="2.5"/>
<text x="1248" y="317.7" font-size="29" text-anchor="start" textLength="295.3">OAS antiviral response</text>
<text transform="translate(1899.6 318.7) scale(1 1.05)" font-size="28.8" text-anchor="start" >3 | 4</text>
<rect x="1563.1" y="335.2" width="298.3" height="36.7" fill="#ff0000" stroke="#000" stroke-width="2.5"/>
<text x="876.3" y="361.8" font-size="29" text-anchor="start" textLength="667">Antiviral mechanism by interferon-stimulated genes</text>
<text transform="translate(1875 362.6) scale(1 1.05)" font-size="28.8" text-anchor="start" >4 | 13</text>
<rect x="1563.1" y="379.1" width="251.6" height="36.7" fill="#ff0000" stroke="#000" stroke-width="2.5"/>
<text x="1054.8" y="405" font-size="29" text-anchor="start" textLength="488.5">Cytokine signalling in immune system</text>
<text transform="translate(1830.5 405.9) scale(1 1.05)" font-size="28.8" text-anchor="start" >13 | 160</text>
<rect x="1563.1" y="423" width="208.6" height="36.7" fill="#ff0000" stroke="#000" stroke-width="2.5"/>
<text x="997.8" y="450.1" font-size="29" text-anchor="start" textLength="545.5">TRAF3-dependent IRF activation pathway</text>
<text transform="translate(1784.5 451) scale(1 1.05)" font-size="28.8" text-anchor="start" >2 | 3</text>
<rect x="1563.1" y="466.9" width="190" height="36.7" fill="#ff0000" stroke="#000" stroke-width="2.5"/>
<text x="1118.9" y="493.5" font-size="29" text-anchor="start" textLength="424.4">TRAF6-mediated IRF7 activation</text>
<text transform="translate(1765.9 494.3) scale(1 1.05)" font-size="28.8" text-anchor="start" >2 | 4</text>
<rect x="1563.1" y="510.8" width="181.3" height="36.7" fill="#ff0000" stroke="#000" stroke-width="2.5"/>
<text x="1338.1" y="536.8" font-size="29" text-anchor="start" textLength="205.2">Immune system</text>
<text transform="translate(1758.3 538.5) scale(1 1.05)" font-size="28.8" text-anchor="start" >19 | 321</text>
<line x1="1563.1" y1="143" x2="1563.1" y2="586.7" stroke="#000" stroke-width="2.2" />
<line x1="1562" y1="585.6" x2="2082.3" y2="585.6" stroke="#000" stroke-width="2.2" />
<line x1="1563.1" y1="585.6" x2="1563.1" y2="573.1" stroke="#000" stroke-width="2.2" />
<text transform="translate(1563.1 620.6) scale(1 1.05)" font-size="28.8" text-anchor="middle" >0</text>
<line x1="1649.4" y1="585.6" x2="1649.4" y2="573.1" stroke="#000" stroke-width="2.2" />
<text transform="translate(1648.8 620.6) scale(1 1.05)" font-size="28.8" text-anchor="middle" >0.5</text>
<line x1="1735.8" y1="585.6" x2="1735.8" y2="573.1" stroke="#000" stroke-width="2.2" />
<text transform="translate(1735.2 620.6) scale(1 1.05)" font-size="28.8" text-anchor="middle" >1.0</text>
<line x1="1822.1" y1="585.6" x2="1822.1" y2="573.1" stroke="#000" stroke-width="2.2" />
<text transform="translate(1821.5 620.6) scale(1 1.05)" font-size="28.8" text-anchor="middle" >1.5</text>
<line x1="1908.5" y1="585.6" x2="1908.5" y2="573.1" stroke="#000" stroke-width="2.2" />
<text transform="translate(1906.6 620.6) scale(1 1.05)" font-size="28.8" text-anchor="middle" >2.0</text>
<line x1="1994.8" y1="585.6" x2="1994.8" y2="573.1" stroke="#000" stroke-width="2.2" />
<text transform="translate(1992.9 620.6) scale(1 1.05)" font-size="28.8" text-anchor="middle" >2.5</text>
<line x1="2081.2" y1="585.6" x2="2081.2" y2="573.1" stroke="#000" stroke-width="2.2" />
<text transform="translate(2079.3 620.6) scale(1 1.05)" font-size="28.8" text-anchor="middle" >3.0</text>
<text x="1822" y="668.2" font-size="28.8" text-anchor="middle">–log<tspan font-size="21" dy="7.3">10</tspan><tspan dy="-7.3">[</tspan><tspan font-style="italic">P</tspan><tspan font-size="21" dy="7.3">adj</tspan><tspan dy="-7.3">]</tspan></text>
</g>
<g id="pc">
<line x1="160.6" y1="863.1" x2="160.6" y2="1366" stroke="#000" stroke-width="2.2" />
<line x1="138.8" y1="1366" x2="664.3" y2="1366" stroke="#000" stroke-width="2.2" />
<line x1="138.8" y1="1366" x2="160.6" y2="1366" stroke="#000" stroke-width="2.2" />
<text transform="translate(124.4 1375.8) scale(1 1.05)" font-size="28.5" text-anchor="end" >0</text>
<line x1="138.8" y1="1198.7" x2="160.6" y2="1198.7" stroke="#000" stroke-width="2.2" />
<text transform="translate(124.4 1208.5) scale(1 1.05)" font-size="28.5" text-anchor="end" >500</text>
<line x1="138.8" y1="1031.5" x2="160.6" y2="1031.5" stroke="#000" stroke-width="2.2" />
<text transform="translate(124.4 1041.3) scale(1 1.05)" font-size="28.5" text-anchor="end" >1,000</text>
<line x1="138.8" y1="864.2" x2="160.6" y2="864.2" stroke="#000" stroke-width="2.2" />
<text transform="translate(124.4 874) scale(1 1.05)" font-size="28.5" text-anchor="end" >1,500</text>
<line x1="237.1" y1="1366" x2="237.1" y2="1387.3" stroke="#000" stroke-width="2.2" />
<line x1="352.9" y1="1366" x2="352.9" y2="1387.3" stroke="#000" stroke-width="2.2" />
<line x1="468.8" y1="1366" x2="468.8" y2="1387.3" stroke="#000" stroke-width="2.2" />
<line x1="584.6" y1="1366" x2="584.6" y2="1387.3" stroke="#000" stroke-width="2.2" />
<text transform="translate(237.1 1424) scale(1 1.05)" font-size="28.5" text-anchor="middle" >C1D1</text>
<text x="237.1" y="1459.3" font-size="28.5" text-anchor="middle" >(<tspan font-style="italic">n</tspan> = 79)</text>
<text transform="translate(352.9 1424) scale(1 1.05)" font-size="28.5" text-anchor="middle" >C1D2</text>
<text x="352.9" y="1459.3" font-size="28.5" text-anchor="middle" >(<tspan font-style="italic">n</tspan> = 79)</text>
<text transform="translate(468.8 1424) scale(1 1.05)" font-size="28.5" text-anchor="middle" >C2D1</text>
<text x="468.8" y="1459.3" font-size="28.5" text-anchor="middle" >(<tspan font-style="italic">n</tspan> = 79)</text>
<text transform="translate(584.6 1424) scale(1 1.05)" font-size="28.5" text-anchor="middle" >C3D1</text>
<text x="584.6" y="1459.3" font-size="28.5" text-anchor="middle" >(<tspan font-style="italic">n</tspan> = 79)</text>
<text transform="translate(29.6 1115) rotate(-90)" font-size="29.3" text-anchor="middle" textLength="209.5">CXCL9 (pg ml<tspan font-size="20.5" dy="-10.5">−1</tspan><tspan dy="10.5">)</tspan></text>
<line x1="237.1" y1="1238.7" x2="237.1" y2="1299.5" stroke="#000" stroke-width="3" />
<line x1="237.1" y1="1343.3" x2="237.1" y2="1358.2" stroke="#000" stroke-width="3" />
<line x1="217.6" y1="1238.7" x2="256.6" y2="1238.7" stroke="#000" stroke-width="3" />
<line x1="217.6" y1="1358.2" x2="256.6" y2="1358.2" stroke="#000" stroke-width="3" />
<rect x="200.1" y="1299.5" width="74" height="43.8" fill="#808080" stroke="#000" stroke-width="3"/>
<line x1="200.1" y1="1333.8" x2="274.1" y2="1333.8" stroke="#000" stroke-width="3" />
<line x1="352.9" y1="1198.4" x2="352.9" y2="1281.6" stroke="#000" stroke-width="3" />
<line x1="352.9" y1="1340" x2="352.9" y2="1356.9" stroke="#000" stroke-width="3" />
<line x1="333.4" y1="1198.4" x2="372.4" y2="1198.4" stroke="#000" stroke-width="3" />
<line x1="333.4" y1="1356.9" x2="372.4" y2="1356.9" stroke="#000" stroke-width="3" />
<rect x="315.9" y="1281.6" width="74" height="58.4" fill="#a0a0a4" stroke="#000" stroke-width="3"/>
<line x1="315.9" y1="1324.4" x2="389.9" y2="1324.4" stroke="#000" stroke-width="3" />
<line x1="468.8" y1="1163.2" x2="468.8" y2="1268.7" stroke="#000" stroke-width="3" />
<line x1="468.8" y1="1336.5" x2="468.8" y2="1352.6" stroke="#000" stroke-width="3" />
<line x1="449.3" y1="1163.2" x2="488.3" y2="1163.2" stroke="#000" stroke-width="3" />
<line x1="449.3" y1="1352.6" x2="488.3" y2="1352.6" stroke="#000" stroke-width="3" />
<rect x="431.8" y="1268.7" width="74" height="67.8" fill="#808080" stroke="#000" stroke-width="3"/>
<line x1="431.8" y1="1315.8" x2="505.8" y2="1315.8" stroke="#000" stroke-width="3" />
<line x1="584.6" y1="1126" x2="584.6" y2="1250.5" stroke="#000" stroke-width="3" />
<line x1="584.6" y1="1337.1" x2="584.6" y2="1354.7" stroke="#000" stroke-width="3" />
<line x1="565.1" y1="1126" x2="604.1" y2="1126" stroke="#000" stroke-width="3" />
<line x1="565.1" y1="1354.7" x2="604.1" y2="1354.7" stroke="#000" stroke-width="3" />
<rect x="547.6" y="1250.5" width="74" height="86.6" fill="#d3d3d3" stroke="#000" stroke-width="3"/>
<line x1="547.6" y1="1315.3" x2="621.6" y2="1315.3" stroke="#000" stroke-width="3" />
<path d="M237.1 1139.5L247.2 1149.6L237.1 1159.7L227 1149.6Z" fill="none" stroke="#000" stroke-width="2.7"/>
<path d="M237.1 1188.3L247.2 1198.4L237.1 1208.5L227 1198.4Z" fill="none" stroke="#000" stroke-width="2.7"/>
<path d="M237.1 1195.8L247.2 1205.9L237.1 1216L227 1205.9Z" fill="none" stroke="#000" stroke-width="2.7"/>
<path d="M352.9 942.9L363 953L352.9 963.1L342.8 953Z" fill="none" stroke="#000" stroke-width="2.7"/>
<path d="M352.9 967.5L363 977.6L352.9 987.7L342.8 977.6Z" fill="none" stroke="#000" stroke-width="2.7"/>
<path d="M352.9 1045.1L363 1055.2L352.9 1065.3L342.8 1055.2Z" fill="none" stroke="#000" stroke-width="2.7"/>
<path d="M352.9 1088.9L363 1099L352.9 1109.1L342.8 1099Z" fill="none" stroke="#000" stroke-width="2.7"/>
<path d="M352.9 1153.7L363 1163.8L352.9 1173.9L342.8 1163.8Z" fill="none" stroke="#000" stroke-width="2.7"/>
<path d="M468.8 924.4L478.9 934.5L468.8 944.6L458.7 934.5Z" fill="none" stroke="#000" stroke-width="2.7"/>
<path d="M468.8 986L478.9 996.1L468.8 1006.2L458.7 996.1Z" fill="none" stroke="#000" stroke-width="2.7"/>
<path d="M468.8 1054.8L478.9 1064.9L468.8 1075L458.7 1064.9Z" fill="none" stroke="#000" stroke-width="2.7"/>
<path d="M468.8 1062.3L478.9 1072.4L468.8 1082.5L458.7 1072.4Z" fill="none" stroke="#000" stroke-width="2.7"/>
<path d="M468.8 1090.5L478.9 1100.6L468.8 1110.7L458.7 1100.6Z" fill="none" stroke="#000" stroke-width="2.7"/>
<path d="M468.8 1105.9L478.9 1116L468.8 1126.1L458.7 1116Z" fill="none" stroke="#000" stroke-width="2.7"/>
<path d="M468.8 1119.4L478.9 1129.5L468.8 1139.6L458.7 1129.5Z" fill="none" stroke="#000" stroke-width="2.7"/>
<path d="M584.6 1007.8L594.7 1017.9L584.6 1028L574.5 1017.9Z" fill="none" stroke="#000" stroke-width="2.7"/>
<path d="M584.6 1016.5L594.7 1026.6L584.6 1036.7L574.5 1026.6Z" fill="none" stroke="#000" stroke-width="2.7"/>
<path d="M584.6 1033.1L594.7 1043.2L584.6 1053.3L574.5 1043.2Z" fill="none" stroke="#000" stroke-width="2.7"/>
<path d="M584.6 1045.7L594.7 1055.8L584.6 1065.9L574.5 1055.8Z" fill="none" stroke="#000" stroke-width="2.7"/>
<path d="M584.6 1054.8L594.7 1064.9L584.6 1075L574.5 1064.9Z" fill="none" stroke="#000" stroke-width="2.7"/>
<line x1="237.1" y1="813.2" x2="584.5" y2="813.2" stroke="#000" stroke-width="2.5" />
<text transform="translate(407.5 801.5) scale(1 1.05)" font-size="28.5" text-anchor="middle" >&lt;0.0001</text>
<line x1="237.1" y1="856.9" x2="468.6" y2="856.9" stroke="#000" stroke-width="2.5" />
<text transform="translate(352 848.2) scale(1 1.05)" font-size="28.5" text-anchor="middle" >&lt;0.0001</text>
<line x1="237.1" y1="902.7" x2="352.9" y2="902.7" stroke="#000" stroke-width="2.5" />
<text transform="translate(293.2 893.6) scale(1 1.05)" font-size="28.5" text-anchor="middle" >0.0008</text>
</g>
<g id="pd">
<line x1="880.2" y1="882" x2="880.2" y2="1369.1" stroke="#000" stroke-width="2.2" />
<line x1="859.2" y1="1369.1" x2="1206.2" y2="1369.1" stroke="#000" stroke-width="2.2" />
<line x1="859.2" y1="1369.1" x2="880.2" y2="1369.1" stroke="#000" stroke-width="2.2" />
<text transform="translate(845.3 1379.2) scale(1 1.05)" font-size="28.5" text-anchor="end" >0</text>
<line x1="859.2" y1="1247.6" x2="880.2" y2="1247.6" stroke="#000" stroke-width="2.2" />
<text transform="translate(845.3 1257.7) scale(1 1.05)" font-size="28.5" text-anchor="end" >200</text>
<line x1="859.2" y1="1126.1" x2="880.2" y2="1126.1" stroke="#000" stroke-width="2.2" />
<text transform="translate(845.3 1136.2) scale(1 1.05)" font-size="28.5" text-anchor="end" >400</text>
<line x1="859.2" y1="1004.6" x2="880.2" y2="1004.6" stroke="#000" stroke-width="2.2" />
<text transform="translate(845.3 1014.7) scale(1 1.05)" font-size="28.5" text-anchor="end" >600</text>
<line x1="859.2" y1="883.1" x2="880.2" y2="883.1" stroke="#000" stroke-width="2.2" />
<text transform="translate(845.3 893.2) scale(1 1.05)" font-size="28.5" text-anchor="end" >800</text>
<line x1="972" y1="1369.1" x2="972" y2="1389.5" stroke="#000" stroke-width="2.2" />
<line x1="1111" y1="1369.1" x2="1111" y2="1389.5" stroke="#000" stroke-width="2.2" />
<text transform="translate(972 1427) scale(1 1.05)" font-size="28.5" text-anchor="middle" >PD/SD</text>
<text x="972" y="1463" font-size="28.5" text-anchor="middle" >(<tspan font-style="italic">n</tspan> = 68)</text>
<text transform="translate(1111 1427) scale(1 1.05)" font-size="28.5" text-anchor="middle" >PR/CR</text>
<text x="1111" y="1463" font-size="28.5" text-anchor="middle" >(<tspan font-style="italic">n</tspan> = 11)</text>
<text transform="translate(771.3 1125.5) rotate(-90)" font-size="29.3" text-anchor="middle" textLength="209.5">CXCL9 (pg ml<tspan font-size="20.5" dy="-10.5">−1</tspan><tspan dy="10.5">)</tspan></text>
<line x1="972.5" y1="1137.4" x2="972.5" y2="1254.5" stroke="#000" stroke-width="3" />
<line x1="972.5" y1="1331.4" x2="972.5" y2="1354.6" stroke="#000" stroke-width="3" />
<line x1="949.3" y1="1137.4" x2="995.7" y2="1137.4" stroke="#000" stroke-width="3" />
<line x1="949.3" y1="1354.6" x2="995.7" y2="1354.6" stroke="#000" stroke-width="3" />
<rect x="927.6" y="1254.5" width="89.8" height="76.9" fill="#a0a0a4" stroke="#000" stroke-width="3"/>
<line x1="927.6" y1="1312.5" x2="1017.4" y2="1312.5" stroke="#000" stroke-width="3" />
<line x1="1111.5" y1="1137.9" x2="1111.5" y2="1229.6" stroke="#000" stroke-width="3" />
<line x1="1111.5" y1="1325.4" x2="1111.5" y2="1352.2" stroke="#000" stroke-width="3" />
<line x1="1088.3" y1="1137.9" x2="1134.7" y2="1137.9" stroke="#000" stroke-width="3" />
<line x1="1088.3" y1="1352.2" x2="1134.7" y2="1352.2" stroke="#000" stroke-width="3" />
<rect x="1066.6" y="1229.6" width="89.8" height="95.8" fill="#b3f7df" stroke="#000" stroke-width="3"/>
<line x1="1066.6" y1="1261" x2="1156.4" y2="1261" stroke="#000" stroke-width="3" />
<path d="M972 967.6L979.4 975L972 982.4L964.6 975Z" fill="none" stroke="#666" stroke-width="2.4"/>
<path d="M986.8 1057.1L994.2 1064.5L986.8 1071.9L979.4 1064.5Z" fill="none" stroke="#666" stroke-width="2.4"/>
<path d="M957.5 1070.1L964.9 1077.5L957.5 1084.9L950.1 1077.5Z" fill="none" stroke="#666" stroke-width="2.4"/>
<line x1="972" y1="878.8" x2="1111.2" y2="878.8" stroke="#000" stroke-width="2.5" />
<text transform="translate(1040 868.9) scale(1 1.05)" font-size="28.7" text-anchor="middle" >0.3448</text>
</g>
<g id="pe">
<rect x="1425.5" y="915" width="128.7" height="171.3" fill="#ffffff"/>
<text transform="translate(1488.4 1012.5) scale(1 1.05)" font-size="29.2" text-anchor="middle" fill="#000">144</text>
<rect x="1553.8" y="915" width="128.6" height="171.3" fill="#bdbdff"/>
<text transform="translate(1617.3 1012.5) scale(1 1.05)" font-size="29.2" text-anchor="middle" fill="#000">201</text>
<rect x="1682" y="915" width="129.4" height="171.3" fill="#9999ff"/>
<text transform="translate(1746.1 1012.5) scale(1 1.05)" font-size="29.2" text-anchor="middle" fill="#000">232</text>
<rect x="1811" y="915" width="130" height="171.3" fill="#7f7fff"/>
<text transform="translate(1875 1012.5) scale(1 1.05)" font-size="29.2" text-anchor="middle" fill="#000">254</text>
<rect x="1425.5" y="1085.9" width="128.7" height="173" fill="#e7e7ff"/>
<text transform="translate(1488.4 1184.1) scale(1 1.05)" font-size="29.2" text-anchor="middle" fill="#000">165</text>
<rect x="1553.8" y="1085.9" width="128.6" height="173" fill="#6a6aff"/>
<text transform="translate(1617.3 1184.1) scale(1 1.05)" font-size="29.2" text-anchor="middle" fill="#fff">272</text>
<rect x="1682" y="1085.9" width="129.4" height="173" fill="#0000ff"/>
<text transform="translate(1746.1 1184.1) scale(1 1.05)" font-size="29.2" text-anchor="middle" fill="#fff">363</text>
<rect x="1811" y="1085.9" width="130" height="173" fill="#6a6aff"/>
<text transform="translate(1875 1184.1) scale(1 1.05)" font-size="29.2" text-anchor="middle" fill="#fff">272</text>
<rect x="1425.5" y="915" width="515.1" height="343.5" fill="none" stroke="#000" stroke-width="2.5"/>
<line x1="1400.5" y1="1001.2" x2="1425.5" y2="1001.2" stroke="#000" stroke-width="2.2" />
<text transform="translate(1338 993.5) scale(1 1.05)" font-size="28.8" text-anchor="middle" >PD/SD</text>
<text x="1338.5" y="1029.1" font-size="28.8" text-anchor="middle" >(<tspan font-style="italic">n</tspan> = 68)</text>
<line x1="1400.5" y1="1172.8" x2="1425.5" y2="1172.8" stroke="#000" stroke-width="2.2" />
<text transform="translate(1338 1165.1) scale(1 1.05)" font-size="28.8" text-anchor="middle" >PR/CR</text>
<text x="1338.5" y="1200.7" font-size="28.8" text-anchor="middle" >(<tspan font-style="italic">n</tspan> = 11)</text>
<line x1="1489.2" y1="1258.5" x2="1489.2" y2="1283.4" stroke="#000" stroke-width="2.2" />
<text transform="translate(1488.6 1318.8) scale(1 1.05)" font-size="28.8" text-anchor="middle" >C1D1</text>
<line x1="1618.1" y1="1258.5" x2="1618.1" y2="1283.4" stroke="#000" stroke-width="2.2" />
<text transform="translate(1617.5 1318.8) scale(1 1.05)" font-size="28.8" text-anchor="middle" >C1D2</text>
<line x1="1746.9" y1="1258.5" x2="1746.9" y2="1283.4" stroke="#000" stroke-width="2.2" />
<text transform="translate(1746.3 1318.8) scale(1 1.05)" font-size="28.8" text-anchor="middle" >C2D1</text>
<line x1="1875.8" y1="1258.5" x2="1875.8" y2="1283.4" stroke="#000" stroke-width="2.2" />
<text transform="translate(1875.2 1318.8) scale(1 1.05)" font-size="28.8" text-anchor="middle" >C3D1</text>
<defs><linearGradient id="cb" x1="0" y1="1" x2="0" y2="0"><stop offset="0" stop-color="#fff"/><stop offset="1" stop-color="#00f"/></linearGradient></defs>
<rect x="1992.2" y="915" width="47.4" height="343.8" fill="url(#cb)" stroke="#000" stroke-width="2.5"/>
<line x1="1992.2" y1="1248.9" x2="2006" y2="1248.9" stroke="#000" stroke-width="2.2" />
<line x1="2025.8" y1="1248.9" x2="2039.6" y2="1248.9" stroke="#000" stroke-width="2.2" />
<text transform="translate(2055.4 1257.4) scale(1 1.05)" font-size="29.2" text-anchor="start" >150</text>
<line x1="1992.2" y1="1170.9" x2="2006" y2="1170.9" stroke="#000" stroke-width="2.2" />
<line x1="2025.8" y1="1170.9" x2="2039.6" y2="1170.9" stroke="#000" stroke-width="2.2" />
<text transform="translate(2055.4 1179.4) scale(1 1.05)" font-size="29.2" text-anchor="start" >200</text>
<line x1="1992.2" y1="1092.9" x2="2006" y2="1092.9" stroke="#000" stroke-width="2.2" />
<line x1="2025.8" y1="1092.9" x2="2039.6" y2="1092.9" stroke="#000" stroke-width="2.2" />
<text transform="translate(2055.4 1101.4) scale(1 1.05)" font-size="29.2" text-anchor="start" >250</text>
<line x1="1992.2" y1="1014.9" x2="2006" y2="1014.9" stroke="#000" stroke-width="2.2" />
<line x1="2025.8" y1="1014.9" x2="2039.6" y2="1014.9" stroke="#000" stroke-width="2.2" />
<text transform="translate(2055.4 1023.4) scale(1 1.05)" font-size="29.2" text-anchor="start" >300</text>
<line x1="1992.2" y1="936.9" x2="2006" y2="936.9" stroke="#000" stroke-width="2.2" />
<line x1="2025.8" y1="936.9" x2="2039.6" y2="936.9" stroke="#000" stroke-width="2.2" />
<text transform="translate(2055.4 945.4) scale(1 1.05)" font-size="29.2" text-anchor="start" >350</text>
<text transform="translate(2151.9 1087.1) rotate(-90)" font-size="29.3" text-anchor="middle" textLength="290.2">Mean CXCL9 (pg ml<tspan font-size="20.5" dy="-10.5">−1</tspan><tspan dy="10.5">)</tspan></text>
</g>
<text x="0.5" y="23.9" font-size="33.5" font-weight="bold" stroke="#000" stroke-width="0.9">a</text>
<text x="844" y="24" font-size="33.5" font-weight="bold" stroke="#000" stroke-width="0.9">b</text>
<text x="0.5" y="832" font-size="33.5" font-weight="bold" stroke="#000" stroke-width="0.9">c</text>
<text x="741" y="832.5" font-size="33.5" font-weight="bold" stroke="#000" stroke-width="0.9">d</text>
<text x="1283" y="831.8" font-size="33.5" font-weight="bold" stroke="#000" stroke-width="0.9">e</text>
</svg>
</body></html>
